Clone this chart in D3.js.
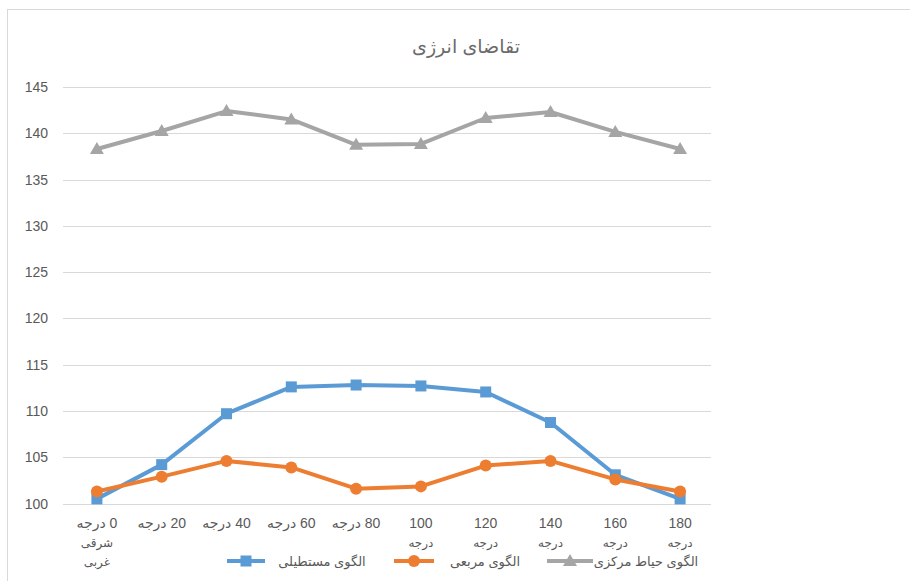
<!DOCTYPE html>
<html>
<head>
<meta charset="utf-8">
<script src="https://cdn.jsdelivr.net/npm/d3@7"></script>
<style>
  body { margin: 0; background: #fff; }
  text { font-family: "Liberation Sans", "DejaVu Sans", sans-serif; fill: #595959; }
</style>
</head>
<body>
<div id="chart"></div>
<script>
// categories (x axis), each label split into its lines
const categories = ['0', '20', '40', '60', '80', '100', '120', '140', '160', '180']
const categoryLabels = [
  ['0 درجه', 'شرقی', 'غربی'],
  ['20 درجه'],
  ['40 درجه'],
  ['60 درجه'],
  ['80 درجه'],
  ['100', 'درجه'],
  ['120', 'درجه'],
  ['140', 'درجه'],
  ['160', 'درجه'],
  ['180', 'درجه']
]

// series values
const rectValues = [100.5, 104.2, 109.7, 112.6, 112.8, 112.7, 112.05, 108.75, 103.1, 100.5]
const squareValues = [101.3, 102.9, 104.6, 103.9, 101.6, 101.85, 104.1, 104.6, 102.6, 101.3]
const courtyardValues = [138.3, 140.25, 142.4, 141.5, 138.75, 138.85, 141.65, 142.3, 140.15, 138.3]

const seriesNames = ['الگوی مستطیلی', 'الگوی مربعی', 'الگوی حیاط مرکزی']
const yTicks = [100, 105, 110, 115, 120, 125, 130, 135, 140, 145]
const title = 'تقاضای انرژی'

const width = 910
const height = 581

const svg = d3
  .select('#chart')
  .append('svg')
  .attr('width', width)
  .attr('height', height)

// chart area border (runs off the right and bottom edge)
svg
  .append('rect')
  .attr('x', 7.5)
  .attr('y', 9.5)
  .attr('width', 1000)
  .attr('height', 700)
  .attr('fill', '#fff')
  .attr('stroke', '#d9d9d9')

svg
  .append('text')
  .attr('x', 466)
  .attr('y', 53)
  .attr('text-anchor', 'middle')
  .attr('direction', 'rtl')
  .style('font-size', '19px')
  .style('fill', '#6b6b6b')
  .text(title)

const xScale = d3.scaleBand().domain(categories).range([64.5, 712.5])
const yScale = d3.scaleLinear().domain([100, 145]).range([503.5, 87])

// gridlines
svg
  .append('g')
  .selectAll('line')
  .data(yTicks)
  .enter()
  .append('line')
  .attr('x1', 63)
  .attr('x2', 711)
  .attr('y1', (d) => Math.round(yScale(d)) + 0.5)
  .attr('y2', (d) => Math.round(yScale(d)) + 0.5)
  .attr('stroke', '#d9d9d9')
  .attr('stroke-width', 1)

// y labels
svg
  .append('g')
  .selectAll('text')
  .data(yTicks)
  .enter()
  .append('text')
  .attr('x', 48)
  .attr('y', (d) => yScale(d) + 5)
  .attr('text-anchor', 'end')
  .style('font-size', '14px')
  .text((d) => d)

// x labels
const xLab = svg
  .append('g')
  .selectAll('text')
  .data(categories)
  .enter()
  .append('text')
  .attr('x', (d) => xScale(d) + xScale.bandwidth() / 2)
  .attr('y', 528)
  .attr('text-anchor', 'middle')
  .attr('direction', 'rtl')
  .style('font-size', '14px')

xLab
  .selectAll('tspan')
  .data((d, i) => categoryLabels[i])
  .enter()
  .append('tspan')
  .attr('x', function () { return this.parentNode.getAttribute('x') })
  .attr('dy', (d, j) => (j === 0 ? 0 : 19))
  .style('font-size', (d, j) => (j === 0 ? '14px' : '12px'))
  .text((d) => d)

const cx = (i) => xScale(categories[i]) + xScale.bandwidth() / 2

const series = [
  { values: rectValues, color: '#5b9bd5', marker: 'square' },
  { values: squareValues, color: '#ed7d31', marker: 'circle' },
  { values: courtyardValues, color: '#a5a5a5', marker: 'triangle' }
]

const makeLine = d3
  .line()
  .x((d, i) => cx(i))
  .y((d) => yScale(d))

function drawMarker(g, type, color, x, y) {
  if (type === 'square') {
    g.append('rect')
      .attr('x', x - 5.5)
      .attr('y', y - 5.5)
      .attr('width', 11)
      .attr('height', 11)
      .attr('fill', color)
  } else if (type === 'circle') {
    g.append('circle')
      .attr('cx', x)
      .attr('cy', y)
      .attr('r', 6)
      .attr('fill', color)
  } else {
    g.append('path')
      .attr('d', `M${x},${y - 7}L${x + 7},${y + 5}L${x - 7},${y + 5}Z`)
      .attr('fill', color)
  }
}

series.forEach(function (s) {
  svg
    .append('path')
    .attr('d', makeLine(s.values))
    .attr('fill', 'none')
    .attr('stroke', s.color)
    .attr('stroke-width', 4)
    .attr('stroke-linejoin', 'round')
    .attr('stroke-linecap', 'round')

  const g = svg.append('g')
  s.values.forEach((v, i) => drawMarker(g, s.marker, s.color, cx(i), yScale(v)))
})

// legend
const legendLines = [[227, 265], [394, 434], [547, 593]]
const legendText = [322, 485, 646]
const legendY = 561

series.forEach(function (s, i) {
  const g = svg.append('g')
  g.append('line')
    .attr('x1', legendLines[i][0])
    .attr('x2', legendLines[i][1])
    .attr('y1', legendY)
    .attr('y2', legendY)
    .attr('stroke', s.color)
    .attr('stroke-width', 4)
  drawMarker(g, s.marker, s.color, (legendLines[i][0] + legendLines[i][1]) / 2, legendY)
  g.append('text')
    .attr('x', legendText[i])
    .attr('y', legendY + 5)
    .attr('text-anchor', 'middle')
    .attr('direction', 'rtl')
    .style('font-size', '13px')
    .text(seriesNames[i])
})
</script>
</body>
</html>
